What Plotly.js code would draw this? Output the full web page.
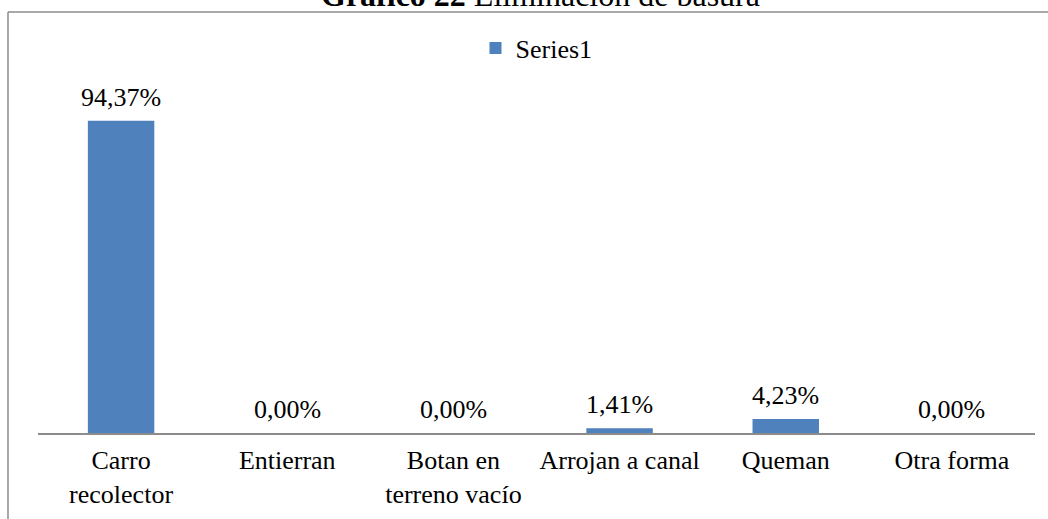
<!DOCTYPE html>
<html>
<head>
<meta charset="utf-8">
<script src="https://cdn.plot.ly/plotly-3.0.1.min.js"></script>
<style>
  html, body { margin: 0; padding: 0; background: #ffffff; }
  #chart { width: 1048px; height: 519px; }
</style>
</head>
<body>
<div id="chart"></div>
<script>
const categories = ["Carro<br>recolector", "Entierran", "Botan en<br>terreno vacío", "Arrojan a canal", "Queman", "Otra forma"];
const values = [94.37, 0.00, 0.00, 1.41, 4.23, 0.00];
const seriesName = "Series1";
const chartTitle = "<b>Gráfico 22</b> Eliminación de basura";

const FONT = "Liberation Serif";
const barColor = "#4F81BD";
const frameColor = "#8c8c8c";

function fmt(v) {
  return v.toFixed(2).replace(".", ",") + "%";
}

const annotations = categories.map((c, i) => ({
  x: c, y: values[i], xref: "x", yref: "y",
  text: fmt(values[i]), showarrow: false,
  yanchor: "bottom", yshift: 7,
  font: { family: FONT, size: 26, color: "#000000" }
}));

// Chart title (partly cut off at the top edge, as in the reference)
annotations.push({
  xref: "paper", yref: "paper",
  x: 0.5036, xanchor: "center",
  y: 1.3233, yanchor: "middle",
  text: chartTitle, showarrow: false,
  font: { family: FONT, size: 32, color: "#000000" }
});

const trace = {
  type: "bar",
  x: categories,
  y: values,
  name: seriesName,
  marker: { color: barColor },
  showlegend: true,
  hoverinfo: "none"
};

const layout = {
  width: 1048, height: 519,
  margin: { l: 38, r: 13, t: 102, b: 86 },
  paper_bgcolor: "#ffffff",
  plot_bgcolor: "#ffffff",
  font: { family: FONT, size: 26, color: "#000000" },
  bargap: 0.6,
  showlegend: true,
  legend: {
    orientation: "h",
    x: 0.5, xanchor: "center",
    y: 1.163, yanchor: "middle",
    font: { family: FONT, size: 26, color: "#000000" },
    bgcolor: "rgba(0,0,0,0)"
  },
  xaxis: {
    type: "category",
    showline: true, linecolor: frameColor, linewidth: 1.5,
    ticks: "", showgrid: false, zeroline: false,
    ticklabelstandoff: 3,
    tickfont: { family: FONT, size: 26, color: "#000000" },
    fixedrange: true
  },
  yaxis: {
    range: [0, 100],
    visible: false, showgrid: false, zeroline: false,
    fixedrange: true
  },
  annotations: annotations,
  shapes: [
    { type: "line", xref: "paper", yref: "paper",
      x0: -0.0301, x1: 1.02, y0: 1.2719, y1: 1.2719,
      line: { color: frameColor, width: 1.5 } },
    { type: "line", xref: "paper", yref: "paper",
      x0: -0.0301, x1: -0.0301, y0: -0.27, y1: 1.2719,
      line: { color: frameColor, width: 1.5 } }
  ]
};

Plotly.newPlot("chart", [trace], layout, { displayModeBar: false, staticPlot: true });
</script>
</body>
</html>
